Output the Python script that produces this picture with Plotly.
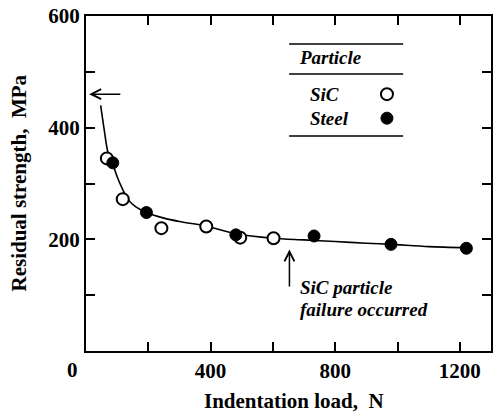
import plotly.graph_objects as go

# ---- data ----
sic_load = [67, 118, 242, 386, 495, 602]
sic_strength = [345, 272, 220, 223, 203, 202]

steel_load = [86, 194, 481, 732, 979, 1221]
steel_strength = [337, 248, 208, 206, 191, 184]

curve_load = [47, 58, 70, 86, 100, 118, 134, 160, 194, 250, 300, 385, 481, 600, 700, 800, 900, 979, 1100, 1225]
curve_strength = [440, 398, 357, 335, 312, 289, 272, 258, 248, 238, 232, 224, 210, 202, 199, 196, 193, 191, 187, 185]

x_tickvals = [0, 200, 400, 600, 800, 1000, 1200]
x_ticktext = ["", "", "400", "", "800", "", "1200"]
y_tickvals = [0, 100, 200, 300, 400, 500, 600]
y_ticktext = ["", "", "200", "", "400", "", "600"]
corner_label = "0"

x_title = "Indentation load,  N"
y_title = "Residual strength,  MPa"

legend_title = "Particle"
legend_names = ["SiC", "Steel"]
note_lines = ["SiC particle", "failure occurred"]

# reference values used for annotation arrows
initial_strength = 460
failure_load = 653

TICK_FONT = dict(family="Liberation Serif", size=21, color="black", weight="bold")
ITAL_FONT = dict(family="Liberation Serif", size=19, color="black", style="italic", weight="bold")

fig = go.Figure()

fig.add_trace(go.Scatter(
    x=curve_load, y=curve_strength, mode="lines",
    line=dict(color="black", width=1.6, shape="spline", smoothing=0.8),
    showlegend=False, hoverinfo="skip"))

fig.add_trace(go.Scatter(
    x=sic_load, y=sic_strength, mode="markers",
    marker=dict(symbol="circle", size=12, color="white", line=dict(color="black", width=2)),
    showlegend=False))

fig.add_trace(go.Scatter(
    x=steel_load, y=steel_strength, mode="markers",
    marker=dict(symbol="circle", size=12, color="black", line=dict(color="black", width=1)),
    showlegend=False))

axis_common = dict(
    showline=True, linecolor="black", linewidth=2, mirror="ticks",
    ticks="inside", ticklen=9, tickwidth=1.5, tickcolor="black",
    showgrid=False, zeroline=False, tickfont=TICK_FONT,
)

fig.update_xaxes(range=[0, 1300], tickmode="array", tickvals=x_tickvals, ticktext=x_ticktext, **axis_common)
fig.update_yaxes(range=[0, 600], tickmode="array", tickvals=y_tickvals, ticktext=y_ticktext, **axis_common)

annotations = []
# corner "0"
annotations.append(dict(x=0, y=0, xref="x", yref="y", text=corner_label, showarrow=False,
                        xanchor="right", yanchor="top", xshift=-6, yshift=-5, font=TICK_FONT))
# axis titles
annotations.append(dict(x=0.5, y=0, xref="paper", yref="paper", text=x_title, showarrow=False,
                        xanchor="center", yanchor="middle", yshift=-50, xshift=5, font=TICK_FONT))
annotations.append(dict(x=0, y=0.5, xref="paper", yref="paper", text=y_title, showarrow=False,
                        textangle=-90, xanchor="center", yanchor="middle", xshift=-68, font=TICK_FONT))
# horizontal arrow at initial strength
annotations.append(dict(x=10, y=initial_strength, xref="x", yref="y",
                        ax=115, ay=initial_strength, axref="x", ayref="y",
                        showarrow=True, arrowhead=5, arrowsize=1.3, arrowwidth=1.5,
                        arrowcolor="black", text=""))
# vertical arrow at failure load
annotations.append(dict(x=failure_load, y=182, xref="x", yref="y",
                        ax=failure_load, ay=113, axref="x", ayref="y",
                        showarrow=True, arrowhead=5, arrowsize=1.3, arrowwidth=1.5,
                        arrowcolor="black", text=""))
annotations.append(dict(x=681, y=113, xref="x", yref="y", text=note_lines[0], showarrow=False,
                        xanchor="left", yanchor="middle", font=ITAL_FONT))
annotations.append(dict(x=681, y=75, xref="x", yref="y", text=note_lines[1], showarrow=False,
                        xanchor="left", yanchor="middle", font=ITAL_FONT))
# legend texts
annotations.append(dict(x=677, y=525, xref="x", yref="y", text=legend_title, showarrow=False,
                        xanchor="left", yanchor="middle", font=ITAL_FONT))
annotations.append(dict(x=713, y=460, xref="x", yref="y", text=legend_names[0], showarrow=False,
                        xanchor="left", yanchor="middle", font=ITAL_FONT))
annotations.append(dict(x=713, y=417, xref="x", yref="y", text=legend_names[1], showarrow=False,
                        xanchor="left", yanchor="middle", font=ITAL_FONT))

shapes = []
for yy in (550, 496, 385):
    shapes.append(dict(type="line", xref="x", yref="y", x0=652, x1=1018, y0=yy, y1=yy,
                       line=dict(color="black", width=1.5)))
for yy, fill, lw in ((460, "white", 2), (417, "black", 1)):
    shapes.append(dict(type="circle", xref="x", yref="y", xsizemode="pixel", ysizemode="pixel",
                       xanchor=966, yanchor=yy, x0=-6, x1=6, y0=-6, y1=6,
                       fillcolor=fill, line=dict(color="black", width=lw)))

fig.update_layout(
    width=494, height=414,
    margin=dict(l=86, r=1, t=16, b=63),
    paper_bgcolor="white", plot_bgcolor="white",
    font=dict(family="Liberation Serif", color="black"),
    annotations=annotations, shapes=shapes,
    showlegend=False,
)

fig.write_html("out.html")
